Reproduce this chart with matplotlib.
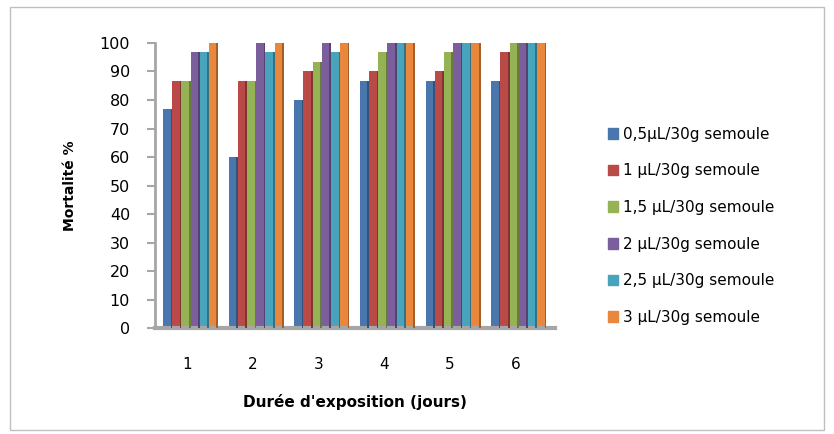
import numpy as np
import matplotlib.pyplot as plt
from matplotlib.patches import Rectangle
from matplotlib.colors import to_rgb

# Mortalité (%) par jour d'exposition et par dose
jours = ["1", "2", "3", "4", "5", "6"]
doses = [
    "0,5µL/30g semoule",
    "1 µL/30g semoule",
    "1,5 µL/30g semoule",
    "2 µL/30g semoule",
    "2,5 µL/30g semoule",
    "3 µL/30g semoule",
]
dose_05 = [76.67, 60.0, 80.0, 86.67, 86.67, 86.67]
dose_1 = [86.67, 86.67, 90.0, 90.0, 90.0, 96.67]
dose_15 = [86.67, 86.67, 93.33, 96.67, 96.67, 100.0]
dose_2 = [96.67, 100.0, 100.0, 100.0, 100.0, 100.0]
dose_25 = [96.67, 96.67, 96.67, 100.0, 100.0, 100.0]
dose_3 = [100.0, 100.0, 100.0, 100.0, 100.0, 100.0]
series = [dose_05, dose_1, dose_15, dose_2, dose_25, dose_3]

colors = ["#4A76AE", "#BA4A47", "#95B255", "#7A5F9C", "#48A3BC", "#E9873C"]

fig = plt.figure(figsize=(8.34, 4.34), dpi=100)
fig.patches.append(Rectangle((0.012, 0.01), 0.976, 0.975, transform=fig.transFigure,
                             fill=False, edgecolor="#bfbfbf", linewidth=1))

ax = fig.add_axes([0.186, 0.244, 0.48, 0.657])

x = np.arange(len(jours))
w = 0.14
side = 0.025
for i, (vals, c) in enumerate(zip(series, colors)):
    pos = x - 2.5 * w + i * w + 0.05
    ax.bar(pos, vals, width=w, color=c, edgecolor="none", zorder=2)
    # darker side face for a light 3D look
    dark = tuple(v * 0.7 for v in to_rgb(c))
    ax.bar(pos + w / 2 - side / 2, vals, width=side, color=dark,
           edgecolor="none", zorder=3)

ax.set_xlim(-0.49, 5.61)
ax.set_ylim(0, 100)
ax.set_yticks(np.arange(0, 101, 10))
ax.set_xticks(x)
ax.set_xticklabels(jours)

for s in ["top", "right"]:
    ax.spines[s].set_visible(False)
ax.spines["left"].set_color("#a6a6a6")
ax.spines["left"].set_linewidth(2)
ax.spines["bottom"].set_color("#a6a6a6")
ax.spines["bottom"].set_linewidth(3)
ax.tick_params(axis="y", length=6, width=1.5, color="#a6a6a6", labelsize=11.5, pad=12)
ax.tick_params(axis="x", length=0, labelsize=11, pad=21)

ax.set_xlabel("Durée d'exposition (jours)", fontsize=11, fontweight="bold", labelpad=16)
ax.set_ylabel("Mortalité %", fontsize=10, fontweight="bold", labelpad=16)

handles = [Rectangle((0, 0), 1, 1, color=c) for c in colors]
fig.legend(handles, doses, loc="upper left", bbox_to_anchor=(0.712, 0.74),
           frameon=False, fontsize=11, handlelength=0.7, handleheight=0.7,
           handletextpad=0.3, labelspacing=1.42)

fig.savefig("out.png", dpi=100)
